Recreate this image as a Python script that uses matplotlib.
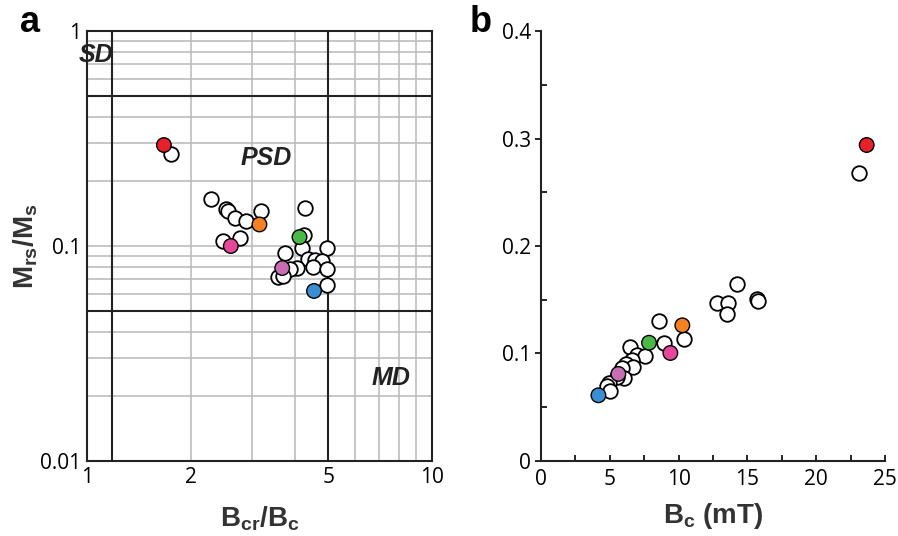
import numpy as np
import matplotlib.pyplot as plt
from matplotlib.ticker import FixedLocator, NullFormatter, MultipleLocator, FuncFormatter

# Panel a: Day plot (Bcr/Bc vs Mrs/Ms), open circles
day_x = [1.75, 2.28, 2.53, 2.56, 2.69, 2.89, 3.19, 2.48, 2.78, 4.28, 4.27, 4.20,
         3.75, 4.96, 4.38, 4.58, 4.79, 4.53, 4.07, 3.88, 3.58, 3.71, 4.96, 4.96]
day_y = [0.268, 0.165, 0.148, 0.146, 0.1355, 0.131, 0.146, 0.106, 0.109, 0.151, 0.112, 0.098,
         0.093, 0.0976, 0.0867, 0.0861, 0.0855, 0.0801, 0.0793, 0.078, 0.072, 0.0725, 0.078, 0.066]

# Panel b: Bc vs Mrs/Ms, open circles
bc_x = [23.11, 14.22, 15.72, 15.75, 12.77, 13.57, 13.49, 8.58, 10.42, 8.96, 6.47, 6.95,
        7.56, 6.59, 6.18, 6.66, 5.86, 6.03, 5.50, 4.96, 4.77, 5.01]
bc_y = [0.268, 0.1647, 0.1504, 0.149, 0.1467, 0.1467, 0.1365, 0.1305, 0.1132, 0.1095, 0.1058, 0.0986,
        0.0977, 0.094, 0.090, 0.0872, 0.0862, 0.0769, 0.0778, 0.0723, 0.0698, 0.0654]

# highlighted samples (same order in both panels)
hl_colors = ["#e8202a", "#f58220", "#4cb848", "#e6479a", "#c76db2", "#3a8fd4"]
hl_day_x = [1.67, 3.16, 4.13, 2.61, 3.68, 4.55]
hl_day_y = [0.295, 0.126, 0.110, 0.100, 0.079, 0.0618]
hl_bc_x = [23.67, 10.27, 7.85, 9.40, 5.62, 4.17]
hl_bc_y = [0.294, 0.1262, 0.110, 0.1005, 0.081, 0.0611]

# domain boundaries
bound_x = [1.18, 5.0]
bound_y = [0.05, 0.5]

TICK_FONT = "Open Sans"
LAB_FONT = "Liberation Sans"
ms = 110
TS = 15

fig = plt.figure(figsize=(8.98, 5.36), dpi=100)

# ---- panel a
ax = fig.add_axes([0.097, 0.140, 0.384, 0.802])
ax.set_xscale("log"); ax.set_yscale("log")
ax.set_xlim(1, 10); ax.set_ylim(0.01, 1)
ax.set_axisbelow(True)
ax.grid(True, which="both", color="#bdbdbd", lw=1.2)
for v in bound_x:
    ax.axvline(v, color="#222222", lw=1.5, zorder=2)
for v in bound_y:
    ax.axhline(v, color="#222222", lw=1.5, zorder=2)
ax.xaxis.set_major_locator(FixedLocator([1, 2, 5, 10]))
ax.set_xticklabels(["1", "2", "5", "10"])
ax.xaxis.set_minor_locator(FixedLocator([2, 3, 4, 5, 6, 7, 8, 9]))
ax.xaxis.set_minor_formatter(NullFormatter())
ax.yaxis.set_major_locator(FixedLocator([0.01, 0.1, 1]))
ax.set_yticklabels(["0.01", "0.1", "1"])
ax.tick_params(which="both", length=0, labelsize=TS, pad=4)
for t in ax.get_xticklabels() + ax.get_yticklabels():
    t.set_fontfamily(TICK_FONT)
for s in ax.spines.values():
    s.set_linewidth(1.5); s.set_color("#222222"); s.set_zorder(3)
ax.scatter(day_x, day_y, s=ms, facecolor="white", edgecolor="black", lw=1.3, zorder=4)
ax.scatter(hl_day_x, hl_day_y, s=ms, c=hl_colors, edgecolor="black", lw=1.0, zorder=5)
lab_kw = dict(fontsize=18, fontweight="bold", style="italic", family=LAB_FONT, color="#222222",
              va="center", ha="center", zorder=6)
ax.text(1.06, 0.77, "SD", **lab_kw)
ax.text(3.3, 0.257, "PSD", **lab_kw)
ax.text(7.6, 0.0243, "MD", **lab_kw)
ax.set_xlabel(r"B$_{\mathregular{cr}}$/B$_{\mathregular{c}}$", fontsize=20, fontweight="bold",
              family=LAB_FONT, color="#333333", labelpad=12)
ax.set_ylabel(r"M$_{\mathregular{rs}}$/M$_{\mathregular{s}}$", fontsize=20, fontweight="bold",
              family=LAB_FONT, color="#333333", labelpad=0)

# ---- panel b
bx = fig.add_axes([0.6025, 0.140, 0.383, 0.802])
bx.set_xlim(0, 25); bx.set_ylim(0, 0.4)
bx.spines["top"].set_visible(False); bx.spines["right"].set_visible(False)
for s in ("left", "bottom"):
    bx.spines[s].set_linewidth(1.5); bx.spines[s].set_color("#222222")
bx.xaxis.set_major_locator(MultipleLocator(5))
bx.xaxis.set_minor_locator(MultipleLocator(2.5))
bx.yaxis.set_major_locator(MultipleLocator(0.1))
bx.yaxis.set_minor_locator(MultipleLocator(0.05))
bx.yaxis.set_major_formatter(FuncFormatter(lambda v, p: "0" if abs(v) < 1e-9 else f"{v:.1f}"))
bx.tick_params(axis="x", which="both", direction="in", length=4, width=1.2, labelsize=TS, pad=6)
bx.tick_params(axis="y", which="major", direction="out", length=4, width=1.2, labelsize=TS, pad=3)
bx.tick_params(axis="y", which="minor", direction="in", length=4, width=1.2)
for t in bx.get_xticklabels() + bx.get_yticklabels():
    t.set_fontfamily(TICK_FONT)
bx.scatter(bc_x, bc_y, s=ms, facecolor="white", edgecolor="black", lw=1.3, zorder=3, clip_on=False)
bx.scatter(hl_bc_x, hl_bc_y, s=ms, c=hl_colors, edgecolor="black", lw=1.0, zorder=4, clip_on=False)
bx.set_xlabel(r"B$_{\mathregular{c}}$ (mT)", fontsize=20, fontweight="bold",
              family=LAB_FONT, color="#333333", labelpad=8)

fig.text(0.022, 0.99, "a", fontsize=26, fontweight="bold", family=LAB_FONT, va="top")
fig.text(0.523, 0.99, "b", fontsize=26, fontweight="bold", family=LAB_FONT, va="top")

fig.savefig("out.png", dpi=100)
